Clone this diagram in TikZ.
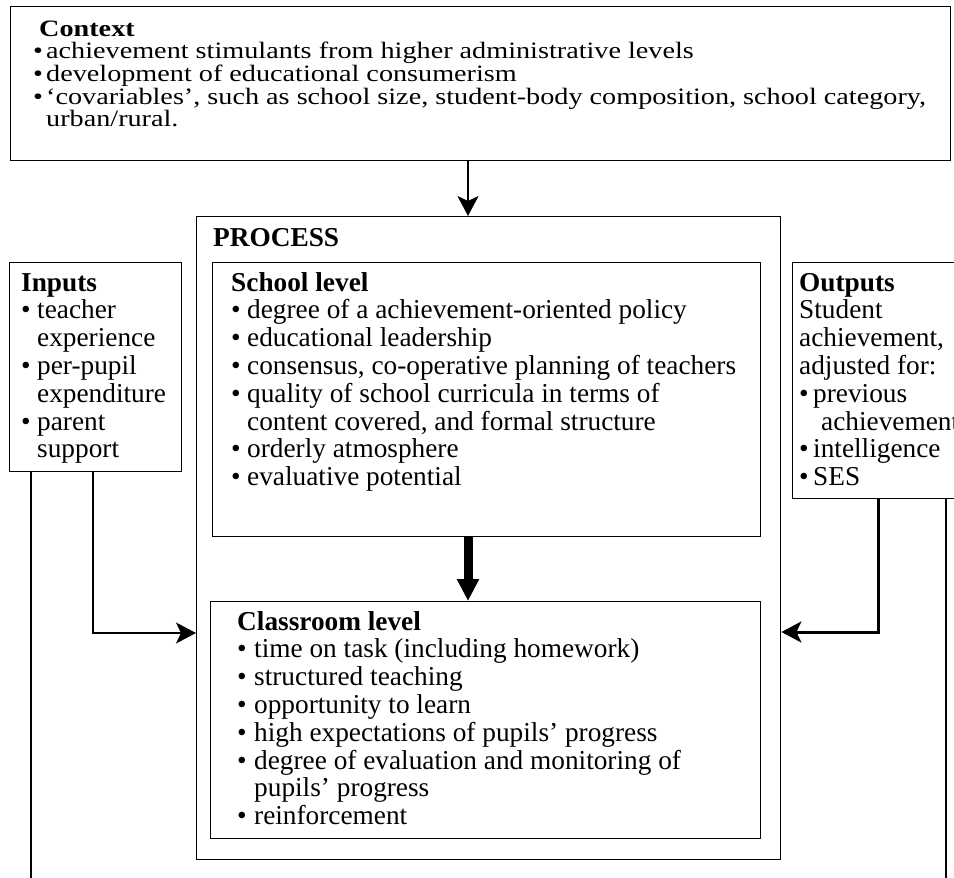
\documentclass[tikz,border=0pt]{standalone}
\usepackage{fontspec}
\setmainfont{Liberation Serif}
\newfontfamily\ctxfont{Liberation Serif}[FakeStretch=1.2]
\usetikzlibrary{arrows.meta}
\newlength\bw
\newcommand\bl[1]{\makebox[\bw][l]{•}#1}
\newcommand\cn[1]{\hspace*{\bw}#1}
\newcommand\pfont{\fontsize{27.3}{27.8}\selectfont}
\begin{document}
\begin{tikzpicture}[x=1pt,y=-1pt,
  box/.style={draw, line width=1.4pt, inner sep=0pt, anchor=north west},
  txt/.style={inner sep=0pt, anchor=base west},
  conn/.style={line width=1.2pt},
  tip/.style={-{Stealth[length=20pt,width=21pt,inset=5pt]}}]
\useasboundingbox (0,0) rectangle (954,878);
\clip (0,0) rectangle (954,878);
% boxes
\node[box, minimum width=940pt, minimum height=154pt] (context) at (10,6) {};
\node[box, minimum width=584pt, minimum height=643pt] (process) at (196,216) {};
\node[box, minimum width=548pt, minimum height=274pt] (school) at (212,262) {};
\node[box, minimum width=550pt, minimum height=237pt] (classroom) at (210,601) {};
\node[box, minimum width=172pt, minimum height=209pt] (inputs) at (9,262) {};
\node[box, minimum width=200pt, minimum height=236pt] (outputs) at (792,262) {};
% texts
\node[txt] (contextT) at (33,36) {\parbox[t]{915pt}{\ctxfont\fontsize{23.5}{22.7}\selectfont\setlength\bw{13pt}\raggedright
\hspace*{6pt}\textbf{Context}\\
\bl{achievement stimulants from higher administrative levels}\\
\bl{development of educational consumerism}\\
\bl{‘covariables’, such as school size, student-body composition, school category,}\\
\cn{urban/rural.}}};
\node[txt] (processT) at (213,246) {\pfont\textbf{PROCESS}};
\node[txt] (schoolT) at (231,291) {\parbox[t]{520pt}{\pfont\setlength\bw{16pt}\raggedright
\textbf{School level}\\
\bl{degree of a achievement-oriented policy}\\
\bl{educational leadership}\\
\bl{consensus, co-operative planning of teachers}\\
\bl{quality of school curricula in terms of}\\
\cn{content covered, and formal structure}\\
\bl{orderly atmosphere}\\
\bl{evaluative potential}}};
\node[txt] (classroomT) at (237,630) {\parbox[t]{520pt}{\pfont\setlength\bw{17pt}\raggedright
\textbf{Classroom level}\\
\bl{time on task (including homework)}\\
\bl{structured teaching}\\
\bl{opportunity to learn}\\
\bl{high expectations of pupils’ progress}\\
\bl{degree of evaluation and monitoring of}\\
\cn{pupils’ progress}\\
\bl{reinforcement}}};
\node[txt] (inputsT) at (21,291) {\parbox[t]{160pt}{\pfont\setlength\bw{16pt}\raggedright
\textbf{Inputs}\\
\bl{teacher}\\
\cn{experience}\\
\bl{per-pupil}\\
\cn{expenditure}\\
\bl{parent}\\
\cn{support}}};
\node[txt] (outputsT) at (799,291) {\parbox[t]{200pt}{\pfont\setlength\bw{14pt}\raggedright
\textbf{Outputs}\\
Student\\
achievement,\\
adjusted for:\\
\bl{previous}\\
\hspace*{22pt}achievement\\
\bl{intelligence}\\
\bl{SES}}};
% connectors
\coordinate (axis) at (468,0);
\coordinate (inA) at (93,633);
\coordinate (inB) at (31,878);
\coordinate (outA) at (878,632);
\coordinate (outB) at (946,878);
\draw[line width=2pt, tip] (context.south -| axis) -- (process.north -| axis);
\draw[line width=9pt, -{Triangle[length=22pt,width=21pt]}] (school.south -| axis) -- (classroom.north -| axis);
\draw[conn, tip] (inputs.south -| inA) |- (process.west |- inA);
\draw[conn] (inputs.south -| inB) -- (inB);
\draw[line width=3pt, tip] (outputs.south -| outA) |- (process.east |- outA);
\draw[conn] (outputs.south -| outB) -- (outB);
\end{tikzpicture}
\end{document}
